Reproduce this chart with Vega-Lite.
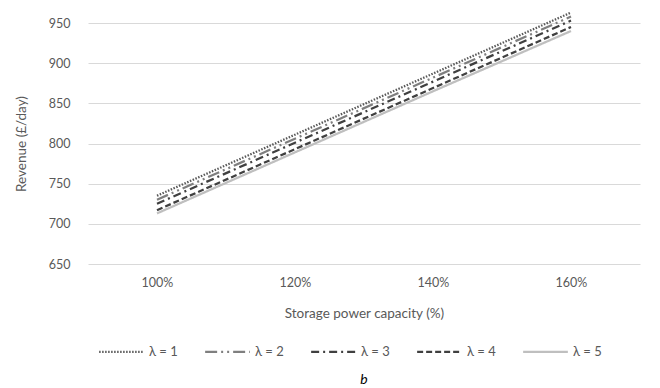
{
  "$schema": "https://vega.github.io/schema/vega-lite/v6.json",
  "width": 552,
  "height": 241,
  "autosize": {"type": "none"},
  "padding": {"left": 88, "top": 23, "right": 20, "bottom": 124},
  "background": "white",
  "config": {
    "font": "Lato",
    "view": {"stroke": null},
    "axis": {"labelColor": "#595959", "titleColor": "#595959", "labelFontSize": 12.5, "titleFontSize": 13.5, "titleFontWeight": "normal", "labelFont": "Lato", "titleFont": "Lato"}
  },
  "title": {"text": "b", "orient": "bottom", "anchor": "middle", "fontStyle": "italic", "fontWeight": "normal", "fontSize": 14, "color": "#000000", "font": "Lato", "offset": 14},
  "data": {
    "values": [
      {"cap": "100%", "lambda": "λ = 1", "rev": 735},
      {"cap": "120%", "lambda": "λ = 1", "rev": 811},
      {"cap": "140%", "lambda": "λ = 1", "rev": 887},
      {"cap": "160%", "lambda": "λ = 1", "rev": 963},
      {"cap": "100%", "lambda": "λ = 2", "rev": 730},
      {"cap": "120%", "lambda": "λ = 2", "rev": 806},
      {"cap": "140%", "lambda": "λ = 2", "rev": 882},
      {"cap": "160%", "lambda": "λ = 2", "rev": 958},
      {"cap": "100%", "lambda": "λ = 3", "rev": 725},
      {"cap": "120%", "lambda": "λ = 3", "rev": 801},
      {"cap": "140%", "lambda": "λ = 3", "rev": 877},
      {"cap": "160%", "lambda": "λ = 3", "rev": 953},
      {"cap": "100%", "lambda": "λ = 4", "rev": 717},
      {"cap": "120%", "lambda": "λ = 4", "rev": 793},
      {"cap": "140%", "lambda": "λ = 4", "rev": 869},
      {"cap": "160%", "lambda": "λ = 4", "rev": 945},
      {"cap": "100%", "lambda": "λ = 5", "rev": 713},
      {"cap": "120%", "lambda": "λ = 5", "rev": 789},
      {"cap": "140%", "lambda": "λ = 5", "rev": 865},
      {"cap": "160%", "lambda": "λ = 5", "rev": 940}
    ]
  },
  "mark": {"type": "line", "strokeWidth": 2.25, "clip": false},
  "encoding": {
    "x": {
      "field": "cap", "type": "ordinal",
      "scale": {"type": "point", "padding": 0.5},
      "axis": {"title": "Storage power capacity (%)", "labelAngle": 0, "ticks": false, "domain": false, "grid": false, "labelPadding": 12, "titlePadding": 18}
    },
    "y": {
      "field": "rev", "type": "quantitative",
      "scale": {"domain": [650, 950], "zero": false},
      "axis": {"title": "Revenue (£/day)", "values": [650, 700, 750, 800, 850, 900, 950], "ticks": false, "domain": false, "gridColor": "#d9d9d9", "gridWidth": 1, "labelPadding": 18, "titlePadding": 20}
    },
    "color": {
      "field": "lambda", "type": "nominal",
      "scale": {"domain": ["λ = 1", "λ = 2", "λ = 3", "λ = 4", "λ = 5"], "range": ["#595959", "#7f7f7f", "#404040", "#404040", "#bfbfbf"]},
      "legend": {
        "title": null, "orient": "none", "legendX": 10, "legendY": 305, "direction": "horizontal", "columns": 5,
        "symbolType": "stroke", "symbolSize": 2000, "symbolStrokeWidth": 2.25, "labelFontSize": 13, "labelColor": "#595959", "labelFont": "Lato", "columnPadding": 22, "labelOffset": 4
      }
    },
    "strokeDash": {
      "field": "lambda", "type": "nominal",
      "scale": {"domain": ["λ = 1", "λ = 2", "λ = 3", "λ = 4", "λ = 5"], "range": [[1.5, 1.5], [12, 4, 2, 4, 2, 4], [8, 4, 2, 4], [6, 3], [1, 0]]},
      "legend": null
    }
  }
}
